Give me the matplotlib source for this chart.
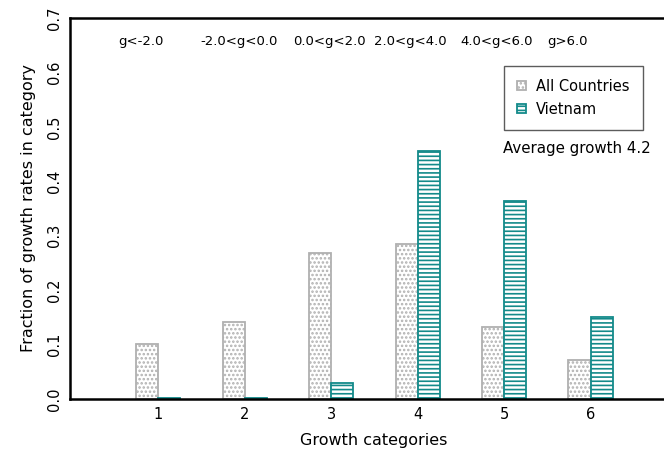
import numpy as np
import matplotlib.pyplot as plt

categories = [1, 2, 3, 4, 5, 6]
all_countries = [0.101, 0.142, 0.268, 0.284, 0.132, 0.072]
vietnam = [0.002, 0.002, 0.030, 0.455, 0.364, 0.151]
range_labels = ['g<-2.0', '-2.0<g<0.0', '0.0<g<2.0', '2.0<g<4.0', '4.0<g<6.0', 'g>6.0']
label_x = [0.54, 1.49, 2.56, 3.49, 4.50, 5.50]
avg_growth = 4.2

plt.rcParams['hatch.linewidth'] = 1.2

fig = plt.figure(figsize=(6.64, 4.55), dpi=100)
ax = fig.add_axes([70 / 664, 56 / 455, 607 / 664, 381 / 455])

x = np.array(categories)
w = 0.255
with plt.rc_context({'hatch.color': '#c8c8c8'}):
    ax.bar(x - w / 2, all_countries, width=w, color='white', edgecolor='#b0b0b0',
           hatch='....', linewidth=1.3, label='All Countries')
with plt.rc_context({'hatch.color': '#138a8a'}):
    ax.bar(x + w / 2, vietnam, width=w, color='white', edgecolor='#138a8a',
           hatch='----', linewidth=1.3, label='Vietnam')

for xl, t in zip(label_x, range_labels):
    ax.text(xl, 0.656, t, fontsize=9.5, ha='left', va='center')

ax.text(4.99, 0.461, 'Average growth %.1f' % avg_growth, fontsize=10.8, ha='left', va='center')

ax.set_xlim(-0.02, 7.0)
ax.set_ylim(0, 0.7)
ax.set_xticks(categories)
ax.set_yticks(np.arange(0, 0.71, 0.1))
ax.set_yticklabels(['%.1f' % v for v in np.arange(0, 0.71, 0.1)], rotation=90, va='center')
ax.tick_params(length=0, labelsize=10.5, pad=6)
for s in ['left', 'bottom', 'top']:
    ax.spines[s].set_linewidth(1.8)
ax.spines['right'].set_visible(False)

ax.set_xlabel('Growth categories', fontsize=11.5, labelpad=8)
ax.set_ylabel('Fraction of growth rates in category', fontsize=11.5, labelpad=8)

leg = ax.legend(loc='upper left', bbox_to_anchor=(0.7027, 0.894), frameon=True,
                fancybox=False, edgecolor='#333333', fontsize=10.5,
                handlelength=0.6, handleheight=0.6, borderpad=0.9, labelspacing=0.55,
                handletextpad=0.7)
leg.get_frame().set_linewidth(1.0)

fig.savefig('out.png', dpi=100)
